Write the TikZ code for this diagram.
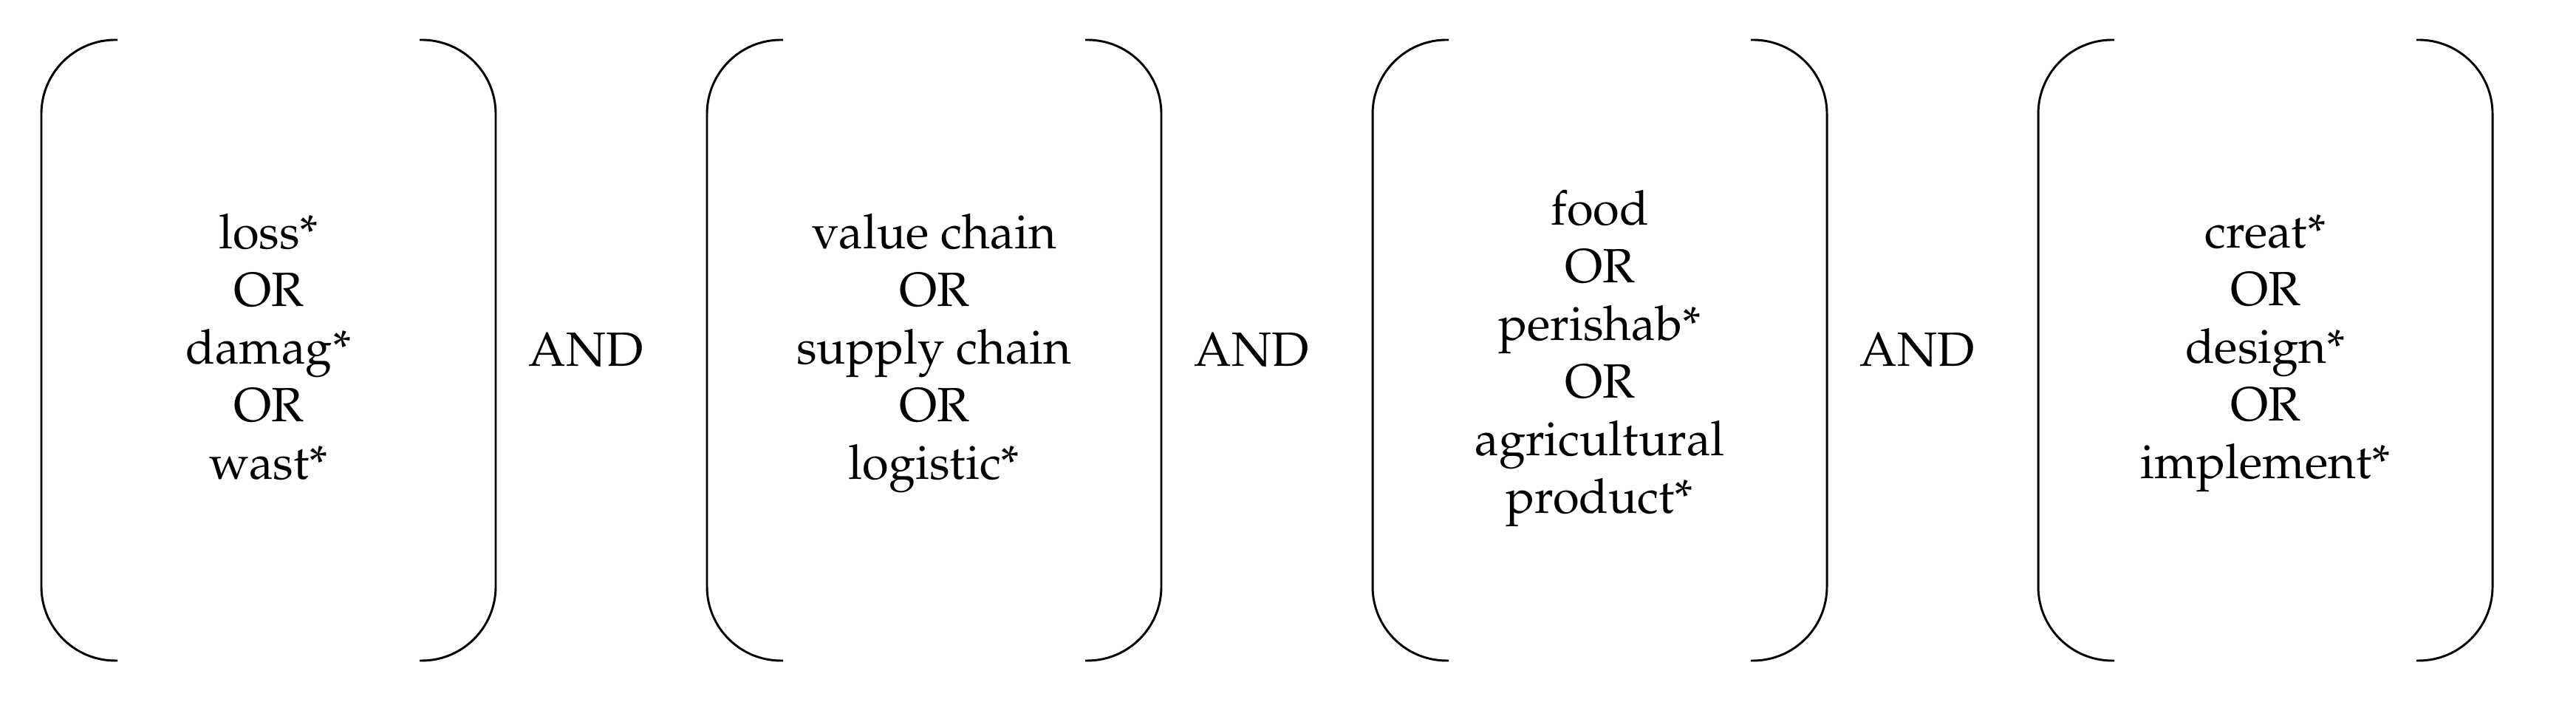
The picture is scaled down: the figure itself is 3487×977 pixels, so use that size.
\documentclass[tikz,border=0pt]{standalone}
\usepackage[T1]{fontenc}
\usepackage{mathpazo}
\usepackage{tikz}

\tikzset{
  term/.style={align=center, inner sep=0pt, execute at begin node=\strut, execute at end node=\strut},
  paren/.style={line width=0.45pt, rounded corners=15.4pt},
}

\begin{document}
\begin{tikzpicture}[x=0.1538pt,y=0.1538pt,yscale=-1]
    \useasboundingbox (0,0) rectangle (3487,977);
    % Brackets
    \foreach \xl in {56,957,1858,2759}{
      \draw[paren] (\xl+103,54) -- (\xl,54) -- (\xl,894) -- (\xl+103,894);
      \draw[paren] (\xl+512,54) -- (\xl+615,54) -- (\xl+615,894) -- (\xl+512,894);
    }
    % Text Node
    \node[term] (loss) at (363.5,481) {loss*\\OR\\damag*\\OR\\wast*};
    % Text Node
    \node[term] (chain) at (1264.5,481) {value chain\\OR\\supply chain\\OR\\logistic*};
    % Text Node
    \node[term] (food) at (2165.5,488) {food\\OR\\perishab*\\OR\\agricultural\\product*};
    % Text Node
    \node[term] (creat) at (3066.5,481) {creat*\\OR\\design*\\OR\\implement*};
    % AND
    \node[inner sep=0pt] (and1) at (793,474) {AND};
    \node[inner sep=0pt] (and2) at (1694,474) {AND};
    \node[inner sep=0pt] (and3) at (2595,474) {AND};
\end{tikzpicture}
\end{document}
